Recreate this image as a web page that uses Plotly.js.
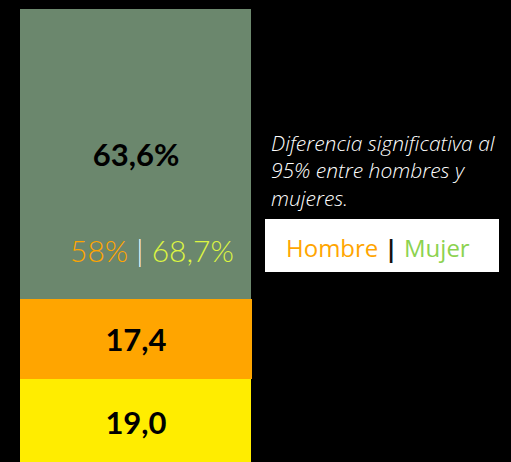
<!DOCTYPE html>
<html><head><meta charset="utf-8">
<script src="https://cdn.plot.ly/plotly-3.0.1.min.js"></script>
<style>html,body{margin:0;padding:0;background:#000;}</style>
</head><body><div id="chart" style="width:511px;height:462px;"></div>
<script>
const categories = ["Total"];
const segmentNames = ["Seg1", "Seg2", "Seg3"];
const segmentValues = [19.0, 17.4, 63.6];
const segmentLabels = ["19,0", "17,4", "63,6%"];
const segmentColors = ["#FFED00", "#FFA500", "#6B876D"];
const genderLabels = ["58%", "68,7%"];
const legendLabels = ["Hombre", "Mujer"];
const noteLines = ["Diferencia significativa al", "95% entre hombres y", "mujeres."];

const traces = segmentValues.map((v, i) => ({
  type: "bar",
  x: [0],
  y: [v],
  name: segmentNames[i],
  width: [1],
  marker: {color: segmentColors[i], line: {width: i === 1 ? 1 : 0, color: segmentColors[i]}},
  text: [segmentLabels[i]],
  textposition: "inside",
  insidetextanchor: "middle",
  textangle: 0,
  textfont: {family: "Lato", size: 31, color: "#000", weight: 700},
  hoverinfo: "none"
}));

const py = p => 1 - (p - 9) / 453;

const annotations = [
  {xref: "paper", yref: "paper", x: 269/511, y: py(170),
   xanchor: "left", yanchor: "middle", align: "left", showarrow: false,
   text: "<i>" + noteLines.join("<br>") + "</i>",
   font: {family: "Open Sans", size: 21, color: "#FFFFFF", weight: 300}},
  {xref: "paper", yref: "paper", x: 378/511, y: py(247),
   xanchor: "center", yanchor: "middle", showarrow: false,
   text: "<span style='color:#FFA500'>" + legendLabels[0] + "</span> <span style='color:#111111'><b>|</b></span> <span style='color:#8CD24F'>" + legendLabels[1] + "</span>",
   font: {family: "Open Sans", size: 24, color: "#000"}},
  {xref: "paper", yref: "paper", x: 152/511, y: py(250),
   xanchor: "center", yanchor: "middle", showarrow: false,
   text: "<span style='color:#FFA500'>" + genderLabels[0] + "</span> <span style='color:#FFFFFF'>|</span> <span style='color:#DDF542'>" + genderLabels[1] + "</span>",
   font: {family: "Lato", size: 30, color: "#FFFFFF", weight: 300}}
];

const layout = {
  width: 511, height: 462,
  margin: {l: 0, r: 0, t: 9, b: 0},
  paper_bgcolor: "#000",
  plot_bgcolor: "#000",
  barmode: "stack",
  showlegend: false,
  xaxis: {range: [-0.5887, 1.6234], visible: false, fixedrange: true},
  yaxis: {range: [0.81, 100], visible: false, fixedrange: true},
  shapes: [
    {type: "rect", xref: "paper", yref: "paper", x0: 265/511, x1: 499/511,
     y0: py(272), y1: py(219),
     fillcolor: "#FFFFFF", line: {width: 0}, layer: "above"}
  ],
  annotations: annotations
};

Plotly.newPlot("chart", traces, layout, {displayModeBar: false, staticPlot: true});
</script></body></html>
